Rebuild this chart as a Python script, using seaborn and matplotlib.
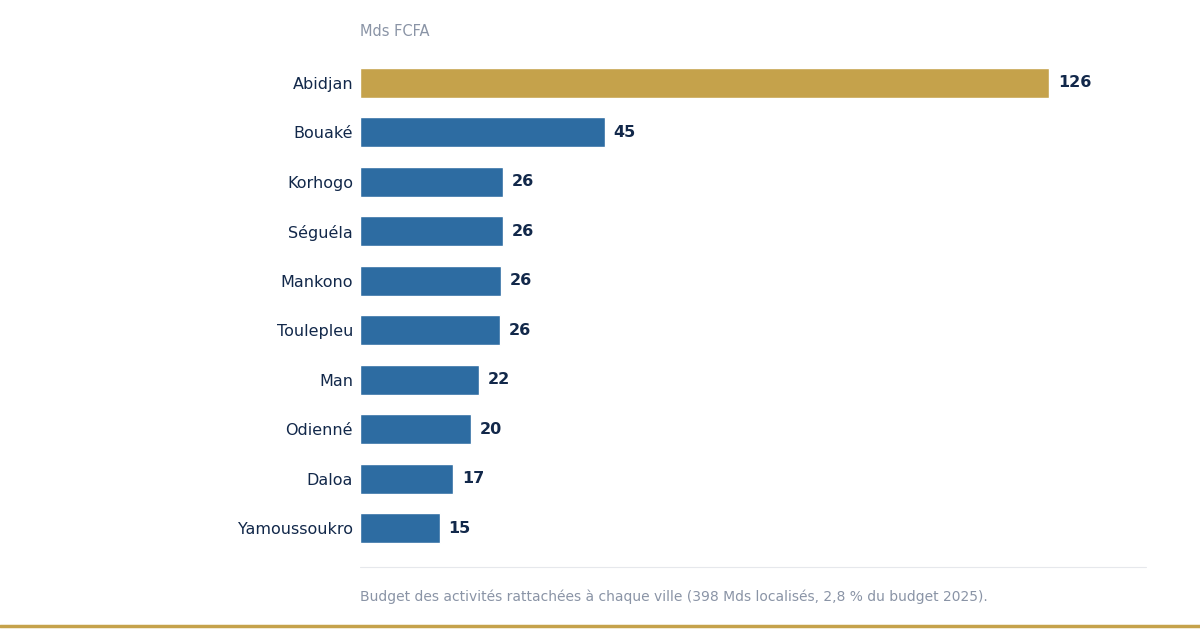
import matplotlib
matplotlib.use("Agg")
import matplotlib.pyplot as plt
import seaborn as sns
import pandas as pd

# data
villes = ["Abidjan", "Bouaké", "Korhogo", "Séguéla", "Mankono",
          "Toulepleu", "Man", "Odienné", "Daloa", "Yamoussoukro"]
budgets = [126, 44.8, 26.1, 26.1, 25.8, 25.6, 21.8, 20.3, 17.0, 14.6]
etiquettes = ["126", "45", "26", "26", "26", "26", "22", "20", "17", "15"]

df = pd.DataFrame({"ville": villes, "budget": budgets})
couleurs = ["#C5A24B"] + ["#2D6CA2"] * (len(villes) - 1)

sns.set_theme(style="white")
plt.rcParams['font.family'] = ['DejaVu Sans']

fig = plt.figure(figsize=(12, 6.3), dpi=100)
ax = fig.add_axes([0.3, 1 - 553 / 630, 0.655, (553 - 58) / 630])

sns.barplot(data=df, x="budget", y="ville", hue="ville", palette=couleurs,
            legend=False, width=0.61, ax=ax, saturation=1)

for i, (v, t) in enumerate(zip(budgets, etiquettes)):
    ax.text(v + 1.6, i, t, va="center", ha="left", fontsize=11.5,
            fontweight="bold", color="#12284A")

ax.set_xlim(0, 143.7)
ax.set_xlabel("")
ax.set_ylabel("")
ax.set_xticks([])
ax.tick_params(axis="y", length=0, pad=5, labelsize=11.5, labelcolor="#12284A")
for s in ax.spines.values():
    s.set_visible(False)

fig.text(0.3, 1 - 31 / 630, "Mds FCFA", fontsize=10.5, color="#8A94A6", va="center")
fig.add_artist(plt.Line2D([0.3, 0.955], [1 - 567 / 630] * 2, color="#E6E8EC", lw=0.8))
fig.text(0.3, 1 - 597 / 630,
         "Budget des activités rattachées à chaque ville (398 Mds localisés, 2,8 % du budget 2025).",
         fontsize=10, color="#8A94A6", va="center")
fig.add_artist(plt.Line2D([0, 1], [1 - 626 / 630] * 2, color="#C5A24B", lw=2.5))

fig.savefig("out.png", dpi=100)
